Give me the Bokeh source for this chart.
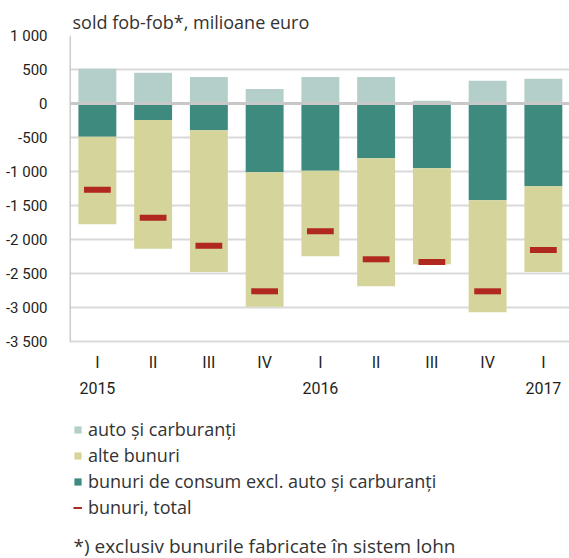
from bokeh.plotting import figure
from bokeh.models import (Range1d, FixedTicker, Legend, LegendItem, LabelSet, Label,
                          Title, ColumnDataSource)
from bokeh.core.properties import value
from bokeh.embed import file_html
from bokeh.resources import INLINE

cats = ["2015 I", "2015 II", "2015 III", "2015 IV", "2016 I", "2016 II", "2016 III", "2016 IV", "2017 I"]
quarter_labels = ["I", "II", "III", "IV", "I", "II", "III", "IV", "I"]
year_labels = ["2015", "", "", "", "2016", "", "", "", "2017"]

auto = [512, 453, 390, 213, 390, 390, 41, 335, 365]
consum = [-488, -243, -394, -1012, -988, -806, -953, -1424, -1218]
alte = [-1289, -1892, -2084, -1976, -1259, -1882, -1412, -1647, -1260]
total = [-1270, -1679, -2091, -2762, -1880, -2291, -2331, -2762, -2154]

y_ticks = [1000, 500, 0, -500, -1000, -1500, -2000, -2500, -3000, -3500]
y_tick_labels = ["1 000", "500", "0", "-500", "-1 000", "-1 500", "-2 000", "-2 500", "-3 000", "-3 500"]

title_text = "sold fob-fob*, milioane euro"
footnote_text = "*) exclusiv bunurile fabricate în  sistem lohn"
legend_labels = ["auto și carburanți", "alte bunuri", "bunuri de consum excl. auto și carburanți", "bunuri, total"]

C_AUTO = "#b4cec9"
C_ALTE = "#d5d49b"
C_CONS = "#3e8a7f"
C_TOT = "#b0281f"
TICK_FONT = "Roboto"
TEXT_FONT = "Open Sans"
TXT = "#231f20"

W, H = 569, 558
LEFT, TOP = 69, 35
Y_MAX, Y_MIN = 1000, -3500
PLOT_H = 306
CAT_W = 55.75
FRAME_W = W - LEFT
FRAME_H = H - TOP
px_per_unit = PLOT_H / (Y_MAX - Y_MIN)
y_start = Y_MAX - FRAME_H / px_per_unit

xs = [i + 0.5 for i in range(len(cats))]

p = figure(x_range=Range1d(0, FRAME_W / CAT_W), y_range=Range1d(y_start, Y_MAX),
           width=W, height=H, output_backend="svg", toolbar_location=None,
           x_axis_location=None,
           min_border_left=LEFT, min_border_right=0, min_border_top=TOP,
           min_border_bottom=0)
p.outline_line_color = None

alte_bottom = [c + a for c, a in zip(consum, alte)]
src = ColumnDataSource(dict(x=xs, auto=auto, consum=consum, alte_top=consum,
                            alte_bottom=alte_bottom, total=total,
                            zero=[0] * len(cats)))

p.xgrid.grid_line_color = None
p.ygrid.ticker = FixedTicker(ticks=y_ticks)
p.ygrid.grid_line_color = "#d9d9d9"
p.ygrid.grid_line_width = 2
p.ygrid.level = "underlay"

bw = 0.68
r_auto = p.vbar(x="x", bottom="zero", top="auto", width=bw, source=src,
                fill_color=C_AUTO, line_color=None)
r_cons = p.vbar(x="x", bottom="consum", top="zero", width=bw, source=src,
                fill_color=C_CONS, line_color=None)
r_alte = p.vbar(x="x", bottom="alte_bottom", top="alte_top", width=bw, source=src,
                fill_color=C_ALTE, line_color=None)
p.rect(x="x", y="total", width=0.48, height=6, height_units="screen", source=src,
       fill_color=C_TOT, line_color=None)
r_tot_leg = p.line(x=xs[:1], y=total[:1], line_color=C_TOT, line_width=2)

p.hspan(y=[0], line_color="#c8c8c8", line_width=3)
p.segment(x0=[0], y0=[Y_MIN], x1=[0], y1=[Y_MAX], line_color="#cccccc", line_width=3)

p.yaxis.ticker = FixedTicker(ticks=y_ticks)
p.yaxis.major_label_overrides = {v: l for v, l in zip(y_ticks, y_tick_labels)}
p.yaxis.axis_line_color = None
p.yaxis.major_tick_line_color = None
p.yaxis.minor_tick_line_color = None
p.yaxis.major_label_standoff = 16
p.yaxis.major_label_text_font = TICK_FONT
p.yaxis.major_label_text_font_size = "15px"
p.yaxis.major_label_text_color = TXT

lab_src = ColumnDataSource(dict(x=xs, q=quarter_labels, yr=year_labels))
p.add_layout(LabelSet(x="x", y=196, y_units="screen", text="q", source=lab_src,
                      text_align="center", text_baseline="middle",
                      text_font=value(TICK_FONT), text_font_size=value("16px"),
                      text_color=TXT))
p.add_layout(LabelSet(x="x", y=171, y_units="screen", text="yr", source=lab_src,
                      text_align="center", text_baseline="middle",
                      text_font=value(TICK_FONT), text_font_size=value("16px"),
                      text_color=TXT))

p.add_layout(Title(text=title_text, align="left", offset=3, standoff=3,
                   text_font=TEXT_FONT, text_font_size="18px", text_font_style="normal",
                   text_color="#333333"), "above")

legend = Legend(items=[LegendItem(label=legend_labels[0], renderers=[r_auto]),
                       LegendItem(label=legend_labels[1], renderers=[r_alte]),
                       LegendItem(label=legend_labels[2], renderers=[r_cons]),
                       LegendItem(label=legend_labels[3], renderers=[r_tot_leg])],
                location=(4, 39), orientation="vertical",
                glyph_width=9, glyph_height=9, label_height=20, spacing=2,
                label_standoff=6, padding=0, margin=0,
                border_line_color=None, background_fill_alpha=0,
                label_text_font=TEXT_FONT, label_text_font_size="18px",
                label_text_color="#333333")
p.add_layout(legend, "center")

p.add_layout(Label(x=4, y=13, x_units="screen", y_units="screen", text=footnote_text,
                   text_font=TEXT_FONT, text_font_size="19px", text_color="#333333",
                   text_baseline="middle"))

open("out.html", "w").write(file_html(p, INLINE))
